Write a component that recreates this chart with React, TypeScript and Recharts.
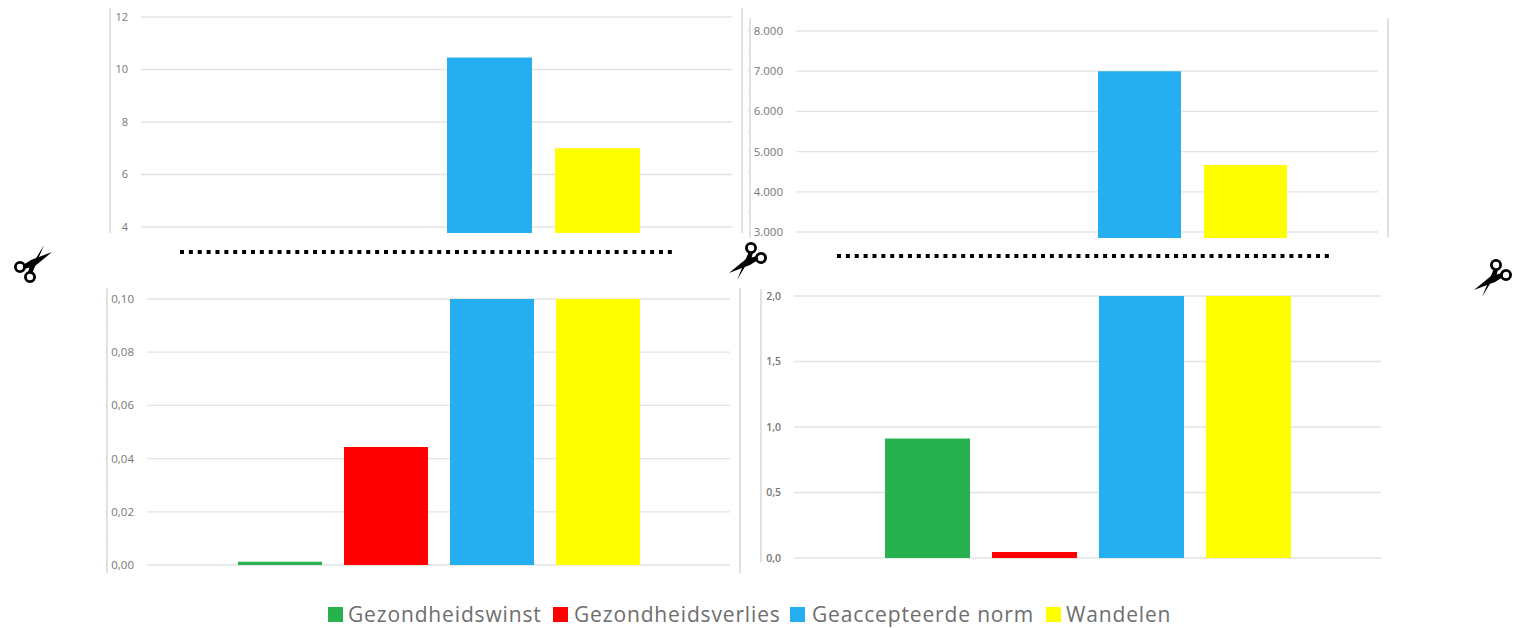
import { BarChart, Bar, XAxis, YAxis, CartesianGrid } from 'recharts';

const seriesNames = ['Gezondheidswinst', 'Gezondheidsverlies', 'Geaccepteerde norm', 'Wandelen'];
const seriesColors = ['#28B14F', '#FF0000', '#25AFF0', '#FFFF00'];

// Top panels only show the part above the axis break, so the two small series stay empty there.
// Bottom panels stop the tall bars at the top of the axis.
const topLeftValues = [null, null, 10.46, 7.0];
const topRightValues = [null, null, 7000, 4667];
const bottomLeftValues = [0.0012, 0.0444, 0.1, 0.1];
const bottomRightValues = [0.912, 0.046, 2.0, 2.0];

const topLeftTicks = [4, 6, 8, 10, 12];
const topRightTicks = [3000, 4000, 5000, 6000, 7000, 8000];
const bottomLeftTicks = [0, 0.02, 0.04, 0.06, 0.08, 0.1];
const bottomRightTicks = [0, 0.5, 1, 1.5, 2];

const topRightMinorTicks = [3500, 4500, 5500, 6500, 7500];
const bottomLeftMinorTicks = [0.01, 0.03, 0.05, 0.07, 0.09];

const GRID = '#E3E3E3';
const AXIS = '#D2D2D2';
const TEXT = '#777777';
const FONT = '"Open Sans", sans-serif';

const dutch = (digits: number) => (v: number) =>
  new Intl.NumberFormat('nl-NL', {
    minimumFractionDigits: digits,
    maximumFractionDigits: digits,
    useGrouping: 'always',
  }).format(v);

interface PanelProps {
  values: (number | null)[];
  ticks: number[];
  minorTicks?: number[];
  domain: [number, number];
  format: (v: number) => string;
  axisX: number;
  gridLeft: number;
  gridRight: number;
  top: number;
  bottom: number;
  barSize: number;
  barGap: number;
  bandTrim?: number;
  labelDx: number;
  fontSize: number;
  fontWeight?: number;
}

const PAD = 6;

function Panel(p: PanelProps) {
  const row: Record<string, string | number | null> = { name: 'all' };
  seriesNames.forEach((s, i) => {
    row[s] = p.values[i];
  });
  const minor = p.minorTicks ?? [];
  const width = p.gridRight - p.axisX + PAD;
  return (
    <div style={{ position: 'absolute', left: p.axisX - PAD, top: p.top }}>
      <BarChart
        width={width}
        height={p.bottom - p.top + PAD}
        data={[row]}
        barSize={p.barSize}
        barGap={p.barGap}
        margin={{ top: 0, right: 0, bottom: PAD, left: PAD - 1 }}
      >
        <CartesianGrid
          vertical={false}
          stroke={GRID}
          strokeWidth={1.3}
          x={p.gridLeft - p.axisX + PAD}
          width={p.gridRight - p.gridLeft}
          horizontalValues={p.ticks}
        />
        <XAxis
          dataKey="name"
          hide
          padding={{ left: p.gridLeft - p.axisX, right: p.bandTrim ?? 0 }}
        />
        <YAxis
          width={1}
          domain={p.domain}
          ticks={[...p.ticks, ...minor]}
          interval={0}
          allowDataOverflow
          axisLine={{ stroke: AXIS, strokeWidth: 1.3 }}
          tickLine={minor.length ? { stroke: '#DDDDDD' } : false}
          tickSize={2}
          tickFormatter={(v: number) => (p.ticks.includes(v) ? p.format(v) : '')}
          tick={{
            fill: TEXT,
            fontSize: p.fontSize,
            fontWeight: p.fontWeight ?? 400,
            fontFamily: FONT,
            dx: p.labelDx,
          }}
        />
        {seriesNames.map((s, i) => (
          <Bar key={s} dataKey={s} fill={seriesColors[i]} isAnimationActive={false} />
        ))}
      </BarChart>
    </div>
  );
}

// Scissors icon at each end of the axis break, drawn with blades up and to the right
function Scissors({ x, y, flip }: { x: number; y: number; flip?: boolean }) {
  return (
    <g transform={`translate(${x} ${y}) rotate(${flip ? 180 : 0})`}>
      <circle cx={-12} cy={4} r={4.6} fill="#fff" stroke="#000" strokeWidth={2.8} />
      <circle cx={-2} cy={14} r={4.6} fill="#fff" stroke="#000" strokeWidth={2.8} />
      <polygon points="-4,9.5 0,10.5 12,-18 3,-3 -2,2" fill="#000" />
      <polygon points="-9,2 -8,6 3,3 20,-11 -1,-3" fill="#000" />
    </g>
  );
}

const legendSwatchX = [328, 553, 790, 1046];
const legendTextX = [348, 574, 812, 1066];

export default function App() {
  return (
    <div style={{ position: 'absolute', left: 0, top: 0, width: 1515, height: 628, overflow: 'hidden', background: '#fff' }}>
      <Panel
        values={topLeftValues}
        ticks={topLeftTicks}
        domain={[3.771, 12.343]}
        format={dutch(0)}
        axisX={110}
        gridLeft={141}
        gridRight={732}
        top={8}
        bottom={233}
        barSize={85}
        barGap={23}
        bandTrim={2}
        labelDx={22}
        fontSize={11}
      />
      <Panel
        values={topRightValues}
        ticks={topRightTicks}
        minorTicks={topRightMinorTicks}
        domain={[2851, 8323]}
        format={dutch(0)}
        axisX={750}
        gridLeft={796}
        gridRight={1378}
        top={18}
        bottom={238}
        barSize={83}
        barGap={23}
        bandTrim={1}
        labelDx={37}
        fontSize={11.5}
      />
      <Panel
        values={bottomLeftValues}
        ticks={bottomLeftTicks}
        minorTicks={bottomLeftMinorTicks}
        domain={[-0.00301, 0.10414]}
        format={dutch(2)}
        axisX={107}
        gridLeft={147}
        gridRight={730}
        top={288}
        bottom={573}
        barSize={84}
        barGap={22}
        labelDx={31}
        fontSize={11.5}
      />
      <Panel
        values={bottomRightValues}
        ticks={bottomRightTicks}
        domain={[-0.0305, 2.0534]}
        format={dutch(1)}
        axisX={761}
        gridLeft={794}
        gridRight={1381}
        top={289}
        bottom={562}
        barSize={85}
        barGap={22}
        labelDx={24}
        fontSize={10.5}
        fontWeight={600}
      />

      <svg width={1515} height={628} style={{ position: 'absolute', left: 0, top: 0, pointerEvents: 'none' }}>
        {/* right-hand frame edges */}
        <line x1={742} y1={8} x2={742} y2={233} stroke={AXIS} strokeWidth={1.3} />
        <line x1={1388} y1={18} x2={1388} y2={237} stroke={AXIS} strokeWidth={1.3} />
        <line x1={740} y1={288} x2={740} y2={573} stroke={AXIS} strokeWidth={1.3} />
        {/* axis break */}
        <line x1={180} y1={252} x2={672} y2={252} stroke="#000" strokeWidth={4} strokeDasharray="4 4.87" />
        <line x1={837} y1={256} x2={1329} y2={256} stroke="#000" strokeWidth={4} strokeDasharray="4 4.87" />
        <Scissors x={32} y={263} />
        <Scissors x={749} y={262} flip />
        <Scissors x={1494} y={279} flip />
      </svg>

      {seriesNames.map((s, i) => (
        <div key={s}>
          <div
            style={{
              position: 'absolute',
              left: legendSwatchX[i],
              top: 607,
              width: 15,
              height: 15,
              background: seriesColors[i],
            }}
          />
          <div
            style={{
              position: 'absolute',
              left: legendTextX[i],
              top: 600,
              lineHeight: '28px',
              fontFamily: FONT,
              fontSize: 21,
              letterSpacing: 0.85,
              color: '#6E6E6E',
              whiteSpace: 'nowrap',
            }}
          >
            {s}
          </div>
        </div>
      ))}
    </div>
  );
}
